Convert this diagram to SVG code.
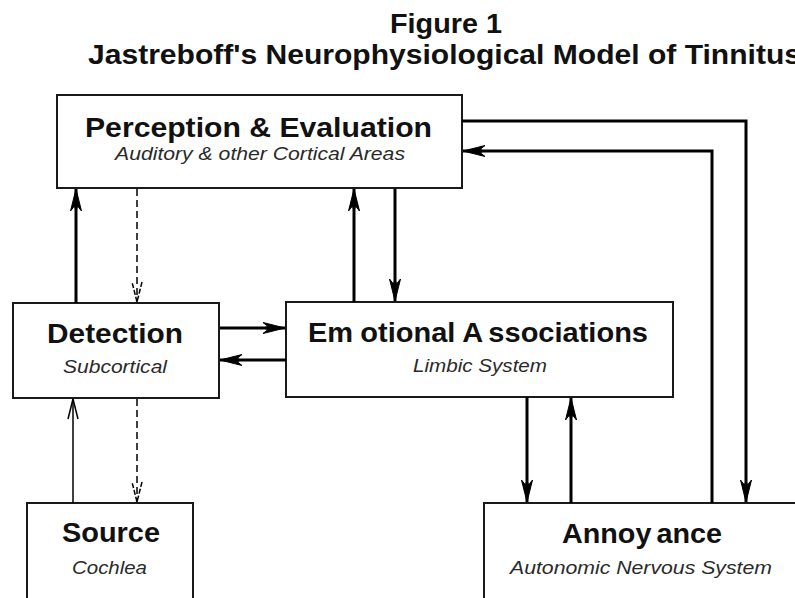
<svg xmlns="http://www.w3.org/2000/svg" width="795" height="598" viewBox="0 0 795 598">
<style>
.box{fill:#fff;stroke:#1a1a1a;stroke-width:2}
.t{font-family:"Liberation Sans",Arial,sans-serif;font-weight:bold;font-size:28.5px;fill:#111}
.h{font-family:"Liberation Sans",Arial,sans-serif;font-weight:bold;font-size:28.5px;fill:#111}
.s{font-family:"Liberation Sans",Arial,sans-serif;font-style:italic;font-size:19px;fill:#2a2a2a}
.thick{fill:none;stroke:#000;stroke-width:3}
.thin{fill:none;stroke:#000;stroke-width:1.5}
.dash{fill:none;stroke:#000;stroke-width:1.5;stroke-dasharray:7 4}
</style>
<defs>
<marker id="ah" markerUnits="userSpaceOnUse" viewBox="-26 -8 28 16" refX="0" refY="0" markerWidth="28" markerHeight="16" orient="auto" overflow="visible">
<path d="M0,0 L-22,-5.5 L-17,-1.5 L-22,0 L-17,1.5 L-22,5.5 Z" fill="#000" stroke="#000" stroke-width="1" stroke-linejoin="miter"/>
</marker>
<marker id="av" markerUnits="userSpaceOnUse" viewBox="-24 -8 26 16" refX="0" refY="0" markerWidth="26" markerHeight="16" orient="auto" overflow="visible">
<path d="M-20,-5 L0,0 L-20,5" fill="none" stroke="#000" stroke-width="1.5"/>
</marker>
<marker id="avd" markerUnits="userSpaceOnUse" viewBox="-24 -8 26 16" refX="0" refY="0" markerWidth="26" markerHeight="16" orient="auto" overflow="visible">
<path d="M-20,-5 L0,0 L-20,5" fill="none" stroke="#000" stroke-width="1.5" stroke-dasharray="5 2"/>
</marker>
</defs>
<rect width="795" height="598" fill="#fff"/>
<g id="title">
<text class="h" x="390" y="33" textLength="112" lengthAdjust="spacingAndGlyphs">Figure 1</text>
<text class="h" x="88" y="64" textLength="713" lengthAdjust="spacingAndGlyphs">Jastreboff's Neurophysiological Model of Tinnitus</text>
</g>
<g id="perception">
<rect class="box" x="57" y="95" width="405" height="93"/>
<text class="t" x="85" y="137" textLength="347" lengthAdjust="spacingAndGlyphs">Perception &amp; Evaluation</text>
<text class="s" x="115" y="160" textLength="290" lengthAdjust="spacingAndGlyphs">Auditory &amp; other Cortical Areas</text>
</g>
<g id="detection">
<rect class="box" x="13" y="303" width="206" height="95"/>
<text class="t" x="47" y="343" textLength="136" lengthAdjust="spacingAndGlyphs">Detection</text>
<text class="s" x="63" y="373" textLength="104" lengthAdjust="spacingAndGlyphs">Subcortical</text>
</g>
<g id="emotional">
<rect class="box" x="286" y="302" width="387" height="95"/>
<text class="t" x="308" y="342" textLength="340" lengthAdjust="spacingAndGlyphs">Em<tspan dx="7">otional</tspan> A<tspan dx="5">ssociations</tspan></text>
<text class="s" x="413" y="372" textLength="134" lengthAdjust="spacingAndGlyphs">Limbic System</text>
</g>
<g id="source">
<rect class="box" x="27" y="503" width="166" height="110"/>
<text class="t" x="62" y="542" textLength="98" lengthAdjust="spacingAndGlyphs">Source</text>
<text class="s" x="72" y="574" textLength="75" lengthAdjust="spacingAndGlyphs">Cochlea</text>
</g>
<g id="annoyance">
<rect class="box" x="484" y="503" width="330" height="110"/>
<text class="t" x="562" y="543" textLength="160" lengthAdjust="spacingAndGlyphs">Annoy<tspan dx="5">ance</tspan></text>
<text class="s" x="510" y="574" textLength="262" lengthAdjust="spacingAndGlyphs">Autonomic Nervous System</text>
</g>
<g id="connectors">
<path class="thick" d="M76,303 V189" marker-end="url(#ah)"/>
<path class="dash" d="M137,189 V302" marker-end="url(#avd)"/>
<path class="thick" d="M354,302 V189" marker-end="url(#ah)"/>
<path class="thick" d="M395,189 V301" marker-end="url(#ah)"/>
<path class="thick" d="M220,328 H285" marker-end="url(#ah)"/>
<path class="thick" d="M286,360 H220" marker-end="url(#ah)"/>
<path class="thin" d="M73,503 V399" marker-end="url(#av)"/>
<path class="dash" d="M137,399 V502" marker-end="url(#avd)"/>
<path class="thick" d="M527,397 V502" marker-end="url(#ah)"/>
<path class="thick" d="M571,503 V398" marker-end="url(#ah)"/>
<path class="thick" d="M462,121 H746 V502" marker-end="url(#ah)"/>
<path class="thick" d="M712,503 V151 H463" marker-end="url(#ah)"/>
</g>
</svg>
